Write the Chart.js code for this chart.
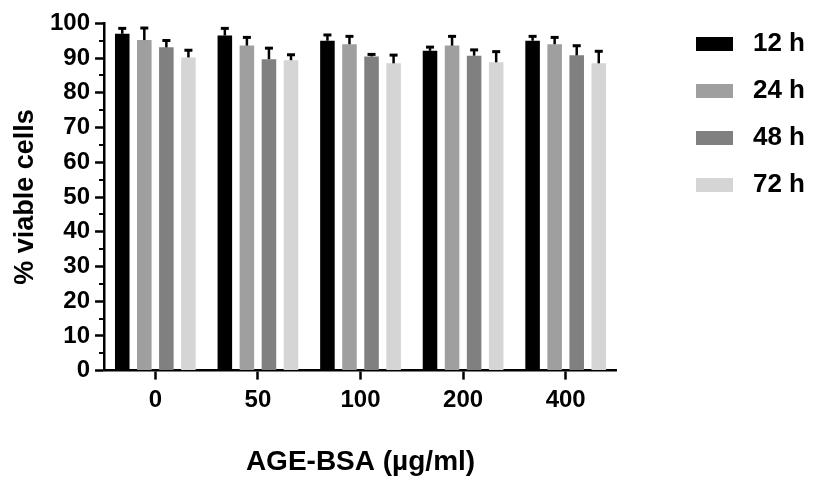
<!DOCTYPE html>
<html>
<head>
<meta charset="utf-8">
<script src="https://cdn.jsdelivr.net/npm/chart.js@4/dist/chart.umd.min.js"></script>
<style>
  html, body { margin: 0; padding: 0; background: #fff; }
  #wrap { width: 815px; height: 479px; position: relative; }
</style>
</head>
<body>
<div id="wrap"><canvas id="c"></canvas></div>
<script>
// ---- data ----
const categories = ['0', '50', '100', '200', '400'];
const seriesNames = ['12 h', '24 h', '48 h', '72 h'];
const mean12 = [97.0, 96.5, 95.0, 92.1, 95.0];
const mean24 = [95.2, 93.6, 94.0, 93.6, 94.0];
const mean48 = [93.1, 89.7, 90.5, 90.7, 90.8];
const mean72 = [90.2, 89.4, 88.5, 88.8, 88.5];
const err12 = [2.0, 2.5, 2.1, 1.5, 1.7];
const err24 = [3.9, 2.8, 2.7, 3.1, 2.4];
const err48 = [2.4, 3.6, 1.0, 2.1, 3.2];
const err72 = [2.5, 2.0, 2.8, 3.5, 3.9];
const yTicks = [0, 10, 20, 30, 40, 50, 60, 70, 80, 90, 100];
const yMinorTicks = [5, 15, 25, 35, 45, 55, 65, 75, 85, 95];

const colors = ['#000000', '#9f9f9f', '#808080', '#d5d5d5'];
const means = [mean12, mean24, mean48, mean72];
const errs = [err12, err24, err48, err72];
const FONT = '"Liberation Sans", Arial, Helvetica, sans-serif';

// legend swatches (as point-style images)
const SW_W = 102, SW_H = 14, SW_OFF = 58, SW_BOX = 37;
const swatches = colors.map(c => {
  const cv = document.createElement('canvas');
  cv.width = SW_W; cv.height = SW_H;
  const g = cv.getContext('2d');
  g.fillStyle = c;
  g.fillRect(SW_OFF, 0, SW_BOX, SW_H);
  return cv;
});

const errorBarPlugin = {
  id: 'errorBars',
  afterDatasetsDraw(chart) {
    const ctx = chart.ctx;
    const y = chart.scales.y;
    ctx.save();
    ctx.strokeStyle = '#000';
    ctx.lineCap = 'butt';
    chart.data.datasets.forEach((ds, di) => {
      const meta = chart.getDatasetMeta(di);
      meta.data.forEach((bar, i) => {
        const v = ds.data[i];
        const e = errs[di][i];
        const yTop = y.getPixelForValue(v + e);
        const yBar = y.getPixelForValue(v);
        ctx.lineWidth = 2.5;
        ctx.beginPath();
        ctx.moveTo(bar.x, yBar);
        ctx.lineTo(bar.x, yTop + 1);
        ctx.stroke();
        ctx.lineWidth = 3;
        ctx.beginPath();
        ctx.moveTo(bar.x - 4, yTop + 1.5);
        ctx.lineTo(bar.x + 4, yTop + 1.5);
        ctx.stroke();
      });
    });
    ctx.restore();
  }
};

const minorTickPlugin = {
  id: 'minorTicks',
  afterDraw(chart) {
    const ctx = chart.ctx;
    const y = chart.scales.y;
    const x0 = chart.chartArea.left;
    ctx.save();
    ctx.strokeStyle = '#000';
    ctx.lineWidth = 2;
    yMinorTicks.forEach(v => {
      const py = Math.round(y.getPixelForValue(v));
      ctx.beginPath();
      ctx.moveTo(x0 - 5, py);
      ctx.lineTo(x0, py);
      ctx.stroke();
    });
    ctx.restore();
  }
};

new Chart(document.getElementById('c'), {
  type: 'bar',
  data: {
    labels: categories,
    datasets: seriesNames.map((n, i) => ({
      label: n,
      data: means[i],
      backgroundColor: colors[i],
      borderWidth: 0,
      categoryPercentage: 0.86,
      barPercentage: 0.66
    }))
  },
  options: {
    responsive: true,
    maintainAspectRatio: false,
    animation: false,
    devicePixelRatio: 1,
    layout: { padding: { top: 10, left: 12, right: 0, bottom: 0 } },
    plugins: {
      tooltip: { enabled: false },
      legend: {
        position: 'right',
        align: 'start',
        labels: {
          usePointStyle: true,
          pointStyleWidth: SW_W,
          boxHeight: SW_H,
          padding: 21,
          color: '#000',
          font: { family: FONT, size: 26, weight: 'bold' },
          generateLabels(chart) {
            const items = Chart.defaults.plugins.legend.labels.generateLabels(chart);
            items.forEach(it => { it.pointStyle = swatches[it.datasetIndex]; });
            return items;
          }
        }
      }
    },
    scales: {
      x: {
        offset: true,
        grid: {
          offset: false,
          drawOnChartArea: false,
          drawTicks: true,
          tickLength: 9,
          tickWidth: 2.5,
          tickColor: '#000'
        },
        border: { color: '#000', width: 2.5 },
        ticks: {
          color: '#000',
          padding: 6,
          font: { family: FONT, size: 24, weight: 'bold' }
        },
        title: {
          display: true,
          text: 'AGE-BSA (µg/ml)',
          color: '#000',
          padding: { top: 25, bottom: 0 },
          font: { family: FONT, size: 28, weight: 'bold' }
        }
      },
      y: {
        min: 0,
        max: 100,
        afterBuildTicks(scale) { scale.ticks = yTicks.map(v => ({ value: v })); },
        afterFit(scale) { scale.paddingTop += 4; },
        grid: {
          drawOnChartArea: false,
          drawTicks: true,
          tickLength: 9,
          tickWidth: 2.5,
          tickColor: '#000'
        },
        border: { color: '#000', width: 2.5 },
        ticks: {
          color: '#000',
          padding: 5,
          font: { family: FONT, size: 24, weight: 'bold' }
        },
        title: {
          display: true,
          text: '% viable cells',
          color: '#000',
          padding: { top: 0, bottom: 6 },
          font: { family: FONT, size: 27, weight: 'bold', lineHeight: 1 }
        }
      }
    }
  },
  plugins: [errorBarPlugin, minorTickPlugin]
});
</script>
</body>
</html>
